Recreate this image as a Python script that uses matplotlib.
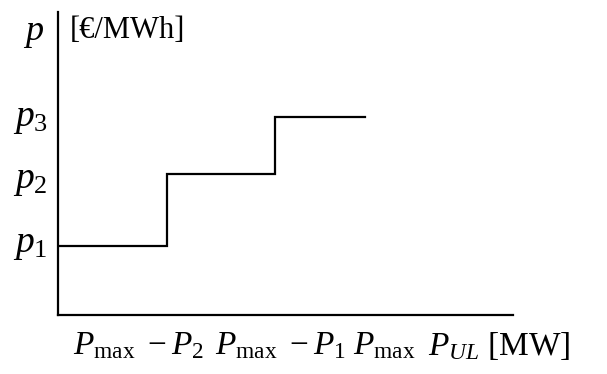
import matplotlib.pyplot as plt

plt.rcParams['font.family'] = ['Liberation Serif', 'DejaVu Serif']
plt.rcParams['mathtext.fontset'] = 'custom'
plt.rcParams['mathtext.rm'] = 'Liberation Serif'
plt.rcParams['mathtext.it'] = 'Liberation Serif:italic'

# step supply curve: quantity breakpoints and price levels
x_breaks = [0.0, 1.0, 2.0, 2.83]
prices = [1.0, 2.04, 2.87]
price_labels = [r'$p_1$', r'$p_2$', r'$p_3$']
x_labels = [r'$P_{\rm max}\ -P_2$', r'$P_{\rm max}\ -P_1$', r'$P_{\rm max}$', r'$P_{UL}$ [MW]']

W, H = 607, 374
fig = plt.figure(figsize=(W / 100, H / 100), dpi=100)
ax = fig.add_axes([58 / W, (H - 315) / H, (513 - 58) / W, (315 - 12) / H])
ax.set_xlim(0, 4.19)
ax.set_ylim(0, 4.39)
for s in ['top', 'right']:
    ax.spines[s].set_visible(False)
for s in ['left', 'bottom']:
    ax.spines[s].set_linewidth(1.6)
ax.set_xticks([])
ax.set_yticks([])

xs, ys = [], []
for i, p in enumerate(prices):
    xs += [x_breaks[i], x_breaks[i + 1]]
    ys += [p, p]
ax.plot(xs, ys, color='black', lw=1.6, solid_joinstyle='miter')


def fig_text(x, y, s, ha='center', fs=24):
    fig.text(x / W, 1 - y / H, s, ha=ha, va='center', fontsize=fs)


fig_text(34, 33, r'$p$', fs=26)
fig_text(70, 30, '[€/MWh]', ha='left', fs=22)
for lab, y in zip(price_labels, [245, 181, 119]):
    fig_text(48, y, lab, ha='right', fs=27)

fig_text(138, 346, x_labels[0], fs=24)
fig_text(280, 346, x_labels[1], fs=24)
fig_text(384, 346, x_labels[2], fs=24)
fig_text(499, 346, x_labels[3], fs=24)

fig.savefig('out.png', dpi=100)
